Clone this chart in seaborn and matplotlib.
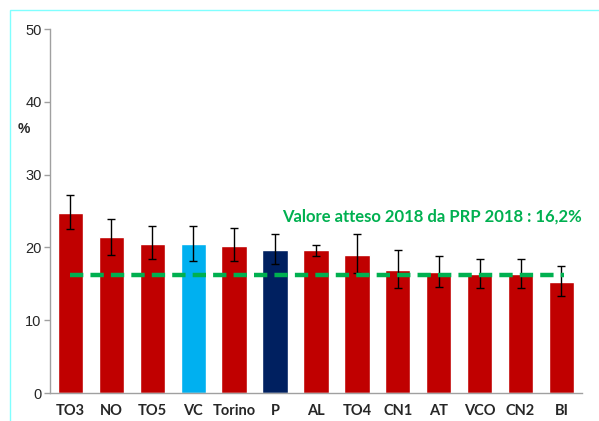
import numpy as np
import pandas as pd
import matplotlib
matplotlib.use("Agg")
import matplotlib.pyplot as plt
import seaborn as sns
from matplotlib.patches import Rectangle

# Values (prevalence %, with 95% CI bounds)
areas = ["TO3", "NO", "TO5", "VC", "Torino", "P", "AL", "TO4", "CN1", "AT", "VCO", "CN2", "BI"]
values = [24.7, 21.4, 20.5, 20.5, 20.2, 19.6, 19.6, 18.9, 16.9, 16.6, 16.3, 16.3, 15.2]
ci_low = [22.5, 19.0, 18.4, 18.1, 18.1, 17.7, 18.8, 16.5, 14.4, 14.5, 14.4, 14.4, 13.3]
ci_high = [27.2, 23.9, 23.0, 23.0, 22.6, 21.8, 20.3, 21.9, 19.7, 18.8, 18.4, 18.4, 17.5]
expected = 16.2

RED = "#C00000"
bar_colors = {a: RED for a in areas}
bar_colors["VC"] = "#00B0F0"
bar_colors["P"] = "#002060"
GREEN = "#00B050"

df = pd.DataFrame({"area": areas, "value": values, "lo": ci_low, "hi": ci_high})

sns.set_theme(style="white")
plt.rcParams["font.family"] = ["Liberation Sans", "DejaVu Sans"]

fig = plt.figure(figsize=(5.99, 4.21), dpi=100)
ax = fig.add_axes([0.0835, 0.0665, 0.888, 0.8645])

sns.barplot(data=df, x="area", y="value", hue="area", palette=bar_colors,
            width=0.62, saturation=1, legend=False, ax=ax)

x = np.arange(len(df))
ax.errorbar(x, df["value"], yerr=[df["value"] - df["lo"], df["hi"] - df["value"]],
            fmt="none", ecolor="black", elinewidth=1, capsize=3, capthick=1)

ax.hlines(expected, 0, len(df) - 0.95, colors=GREEN, linestyles=(0, (3, 1.6)),
          linewidth=3.2, zorder=4)
ax.text(len(df) - 0.5, 24.2, "Valore atteso 2018 da PRP 2018 : 16,2%",
        ha="right", va="center", color=GREEN, fontsize=12, fontweight="bold",
        family=["Lato", "DejaVu Sans"])

ax.set_xlim(-0.5, len(df) - 0.5)
ax.set_ylim(0, 50)
ax.set_yticks([0, 10, 20, 30, 40, 50])
ax.set_xlabel("")
ax.set_ylabel("%", rotation=0, fontsize=10, fontweight="bold", labelpad=12)
ax.yaxis.set_label_coords(-0.05, 0.705)

for side in ["top", "right"]:
    ax.spines[side].set_visible(False)
for side in ["left", "bottom"]:
    ax.spines[side].set_color("#A0A0A0")
    ax.spines[side].set_linewidth(1)

ax.tick_params(axis="y", left=True, length=4, width=1, color="#A0A0A0",
               labelsize=10.5, pad=2)
ax.tick_params(axis="x", bottom=False, labelsize=10.5, pad=2)
for lbl in ax.get_xticklabels():
    lbl.set_fontweight("bold")
    lbl.set_family(["Lato", "DejaVu Sans"])

# light cyan frame around the picture
fig.patches.append(Rectangle((10 / 599, -0.1), 1.2, 1.1 - 10 / 421,
                             transform=fig.transFigure, fill=False,
                             edgecolor="#80FFFF", linewidth=1))

fig.savefig("out.png", dpi=100)
